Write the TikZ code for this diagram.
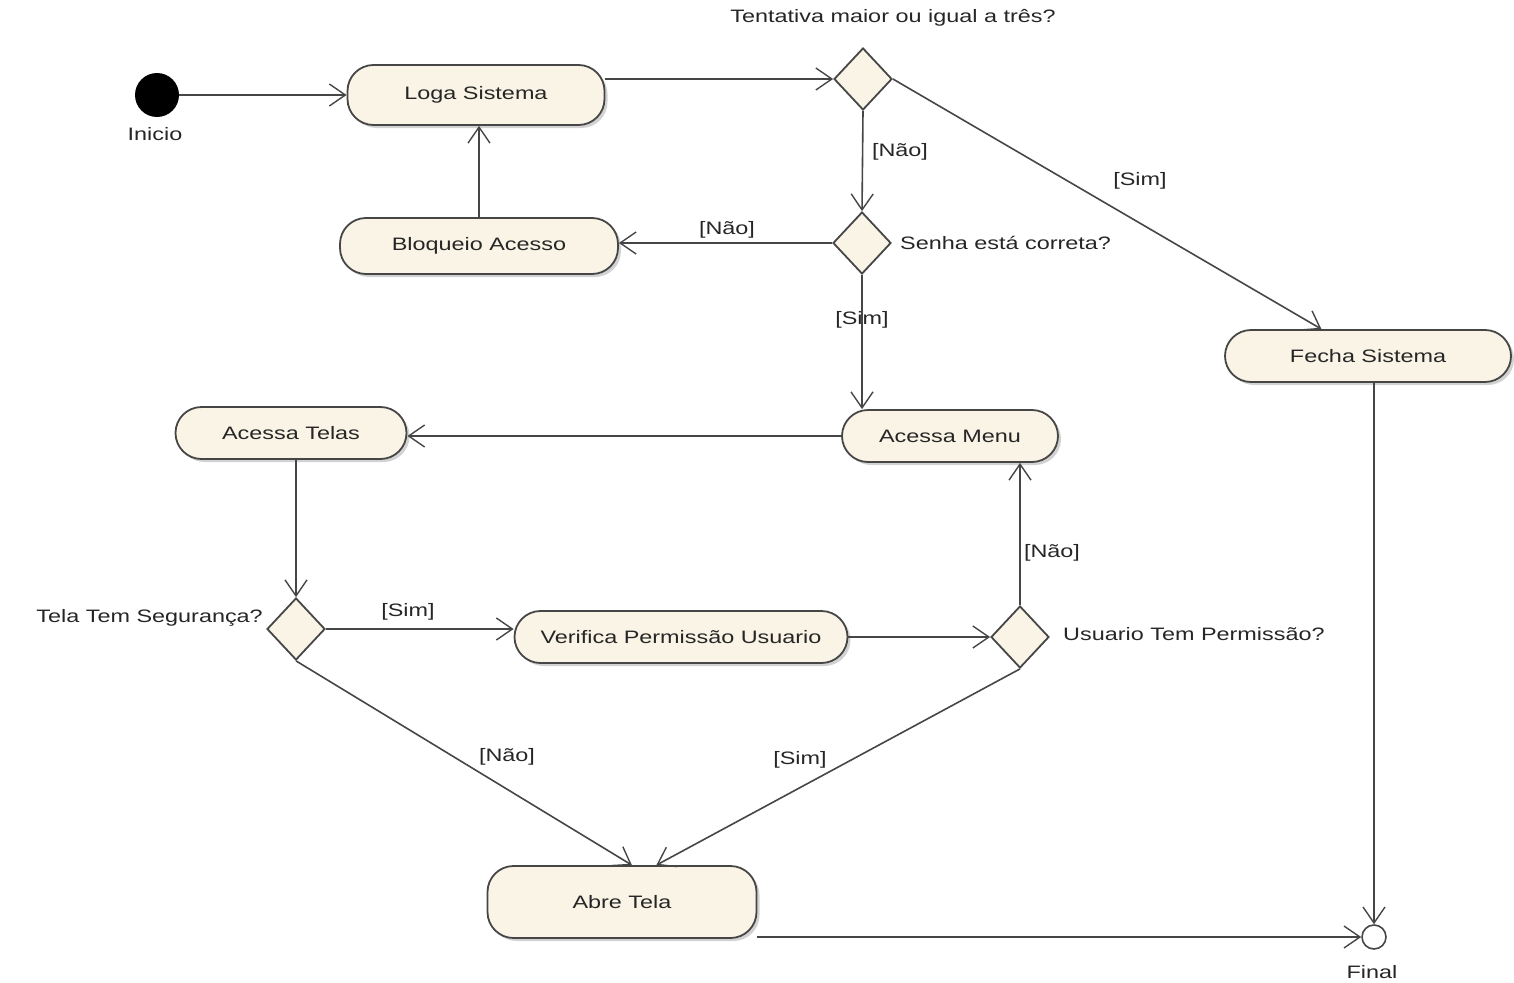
\documentclass[tikz,border=0pt]{standalone}
\usepackage{fontspec}
\setmainfont{Liberation Sans}[FakeStretch=1.3]
\usepackage{xcolor}
\usetikzlibrary{shapes.geometric,arrows.meta,shadows}
\definecolor{bege}{RGB}{250,244,230}
\definecolor{linha}{RGB}{70,70,70}

\begin{document}
\begin{tikzpicture}[x=1pt,y=-1pt,
font=\fontsize{18}{20}\selectfont,text=black!85,
atividade/.style={draw=linha,line width=1.8pt,fill=bege,rounded corners=26pt,inner sep=0pt,
  drop shadow={shadow xshift=3pt,shadow yshift=-3pt,fill=black!35,opacity=.5}},
decisao/.style={diamond,draw=linha,line width=1.8pt,fill=bege,inner sep=0pt,minimum width=58pt,minimum height=62pt},
seta/.style={draw=linha,line width=1.6pt,-{Straight Barb[length=16pt,width=22pt,line width=1.4pt]}},
rotulo/.style={inner sep=1pt},
]
\useasboundingbox (0,0) rectangle (1514,982);

\node[circle,fill=black,minimum size=44pt,inner sep=0pt] (inicio) at (157,95) {};
\node[rotulo] (inicioTxt) at (155,134) {Inicio};

\node[atividade,minimum width=257pt,minimum height=60pt] (loga) at (476,95) {Loga Sistema};
\node[atividade,minimum width=278pt,minimum height=56pt] (bloqueio) at (479,246) {Bloqueio Acesso};
\node[atividade,minimum width=216pt,minimum height=52pt] (menu) at (950,436) {Acessa Menu};
\node[atividade,minimum width=286pt,minimum height=52pt] (fecha) at (1368,356) {Fecha Sistema};
\node[atividade,minimum width=231pt,minimum height=52pt] (telas) at (291,433) {Acessa Telas};
\node[atividade,minimum width=333pt,minimum height=52pt] (verifica) at (681,637) {Verifica Permissão Usuario};
\node[atividade,minimum width=269pt,minimum height=72pt] (abre) at (622,902) {Abre Tela};

\node[decisao] (d1) at (863,79) {};
\node[decisao] (d2) at (862,243) {};
\node[decisao] (d3) at (296,629) {};
\node[decisao] (d4) at (1020,637) {};

\node[circle,draw=linha,line width=1.6pt,fill=white,minimum size=24pt,inner sep=0pt] (final) at (1374,937) {};
\node[rotulo] (finalTxt) at (1372,972) {Final};

% perguntas
\node[rotulo] (d1Txt) at (893,18) {Tentativa maior ou igual a três?};
\node[rotulo,anchor=west] (d2Txt) at (899,243) {Senha está correta?};
\node[rotulo,anchor=east] (d3Txt) at (264,618) {Tela Tem Segurança?};
\node[rotulo,anchor=west] (d4Txt) at (1062,634) {Usuario Tem Permissão?};

% guardas
\node[rotulo] (naoD1) at (900,152) {[Não]};
\node[rotulo] (simD1) at (1140,181) {[Sim]};
\node[rotulo] (naoD2) at (727,230) {[Não]};
\node[rotulo] (simD2) at (862,320) {[Sim]};
\node[rotulo] (simD3) at (408,612) {[Sim]};
\node[rotulo] (naoD3) at (507,757) {[Não]};
\node[rotulo] (naoD4) at (1052,553) {[Não]};
\node[rotulo] (simD4) at (800,760) {[Sim]};

\draw[seta] (inicio) -- (loga.west);
\draw[seta] (d1.west -| loga.east) -- (d1.west);
\draw[seta] (d1.south) -- (d2.north);
\draw[seta] (d1.east) -- (fecha.150);
\draw[seta] (d2.west) -- (d2.west -| bloqueio.east);
\draw[seta] (bloqueio.north) -- (bloqueio.north |- loga.south);
\draw[seta] (d2.south) -- (d2.south |- menu.north);
\draw[seta] (menu.west) -- (menu.west -| telas.east);
\draw[seta] (d3.north |- telas.south) -- (d3.north);
\draw[seta] (d3.east) -- (d3.east -| verifica.west);
\draw[seta] (verifica.east) -- (d4.west);
\draw[seta] (d4.north) -- (d4.north |- menu.south);
\draw[seta] (d3.south) -- (abre.75);
\draw[seta] (d4.south) -- (abre.47);
\draw[seta] (final.west -| abre.east) -- (final.west);
\draw[seta] (final.north |- fecha.south) -- (final.north);

\end{tikzpicture}
\end{document}
